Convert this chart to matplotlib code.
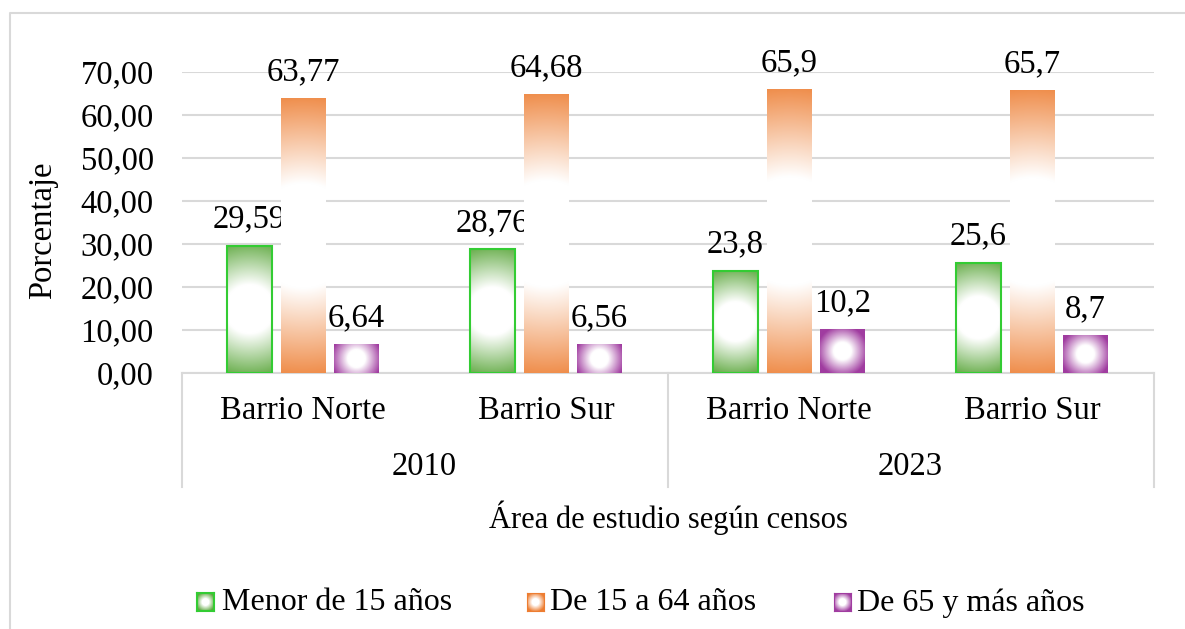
import numpy as np
import matplotlib.pyplot as plt
from matplotlib.colors import to_rgb
from matplotlib.patches import Rectangle
from matplotlib.lines import Line2D

plt.rcParams['font.family'] = ['Liberation Serif', 'DejaVu Serif']

barrios = ['Barrio Norte', 'Barrio Sur', 'Barrio Norte', 'Barrio Sur']
years = ['2010', '2023']
series = ['Menor de 15 años', 'De 15 a 64 años', 'De 65 y más años']
menor15 = [29.59, 28.76, 23.8, 25.6]
de15a64 = [63.77, 64.68, 65.9, 65.7]
mas65 = [6.64, 6.56, 10.2, 8.7]
labels = [['29,59', '28,76', '23,8', '25,6'],
          ['63,77', '64,68', '65,9', '65,7'],
          ['6,64', '6,56', '10,2', '8,7']]
colors = ['#5ea83f', '#ed7d31', '#a03ca0']
edge_colors = ['#33cc33', None, None]

W, H = 1185, 629
FS = 23.5
fig = plt.figure(figsize=(W / 100, H / 100), dpi=100)
ax = fig.add_axes([181.5 / W, 256 / H, 972 / W, 301 / H])

px_x = 972 / 4.0
px_y = 301 / 70.0


def gradient(wpx, hpx, color):
    nx, ny = max(int(wpx), 4), max(int(hpx), 4)
    xs = (np.arange(nx) + 0.5) - nx / 2
    ys = (np.arange(ny) + 0.5) - ny / 2
    X, Y = np.meshgrid(xs, ys)
    R = np.sqrt(X ** 2 + Y ** 2) / (max(wpx, hpx) / 2)
    c = np.clip((R - 0.38) / 0.72, 0, 1)
    col = np.array(to_rgb(color))
    return (1 - c[..., None]) * 1.0 + c[..., None] * col


x = np.arange(len(barrios))
bw = 0.185
offs = [-0.22, 0, 0.22]
data = [menor15, de15a64, mas65]
for s, vals in enumerate(data):
    for i, v in enumerate(vals):
        x0 = x[i] + offs[s] - bw / 2
        img = gradient(bw * px_x, v * px_y, colors[s])
        ax.imshow(img, extent=(x0, x0 + bw, 0, v), aspect='auto',
                  interpolation='bilinear', zorder=3, origin='upper')
        if edge_colors[s]:
            ax.add_patch(Rectangle((x0, 0), bw, v, fill=False,
                                   edgecolor=edge_colors[s], lw=1.5, zorder=4))
        ax.annotate(labels[s][i], (x[i] + offs[s], v), xytext=(0, 19),
                    textcoords='offset points', ha='center', va='center',
                    fontsize=FS, annotation_clip=False)

ax.set_xlim(-0.5, 3.5)
ax.set_ylim(0, 70)
ax.set_yticks(range(0, 71, 10))
ax.set_yticklabels([f'{t},00' for t in range(0, 71, 10)], fontsize=FS)
ax.tick_params(axis='y', length=0, pad=20)
ax.set_xticks([])
ax.grid(axis='y', color='#d9d9d9', lw=1.5, zorder=0)
ax.set_axisbelow(True)
for sp in ['top', 'right', 'left']:
    ax.spines[sp].set_visible(False)
ax.spines['bottom'].set_color('#d9d9d9')
ax.spines['bottom'].set_linewidth(1.5)

tr = ax.get_xaxis_transform()
for i, b in enumerate(barrios):
    ax.text(x[i], -38 / 301, b, transform=tr, ha='center', va='center', fontsize=FS)
for j, yv in enumerate(years):
    ax.text(0.5 + 2 * j, -94 / 301, yv, transform=tr, ha='center', va='center', fontsize=FS)
for xv in [-0.5, 1.5, 3.5]:
    ax.add_line(Line2D([xv, xv], [0, -114 / 301], transform=tr, color='#d9d9d9',
                       lw=1.5, clip_on=False))

fig.text(668 / W, 1 - 518 / H, 'Área de estudio según censos', ha='center',
         va='center', fontsize=22)
fig.text(43 / W, 1 - 230 / H, 'Porcentaje', rotation=90, ha='center',
         va='center', fontsize=FS)

# legend
mk_x = [197, 527, 834]
txt_x = [222, 550, 857]
for s, name in enumerate(series):
    lax = fig.add_axes([mk_x[s] / W, (H - 611) / H, 17 / W, 18 / H])
    lax.imshow(gradient(17, 18, colors[s]), aspect='auto', interpolation='bilinear')
    lax.set_xticks([])
    lax.set_yticks([])
    for sp in lax.spines.values():
        sp.set_color(edge_colors[s] or colors[s])
        sp.set_linewidth(1.5 if edge_colors[s] else 0.8)
    fig.text(txt_x[s] / W, 1 - 603 / H, name, ha='left', va='center', fontsize=23)

# chart border (left and top only visible)
fig.add_artist(Line2D([10 / W, 10 / W, 1], [0, 1 - 13 / H, 1 - 13 / H],
                      transform=fig.transFigure, color='#d9d9d9', lw=1.5))

fig.savefig('out.png', dpi=100)
